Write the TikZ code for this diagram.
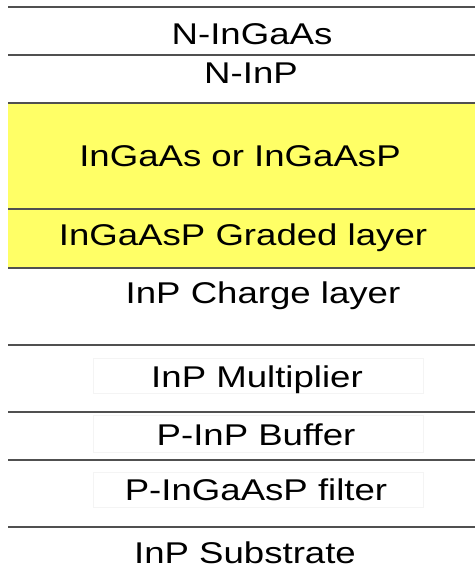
\documentclass[tikz,border=0pt]{standalone}
\usepackage{fontspec}
\setmainfont{Liberation Sans}
\usepackage{graphicx}
\definecolor{layeryellow}{RGB}{255,255,102}
\definecolor{sepline}{RGB}{80,80,80}
\definecolor{faintbox}{RGB}{244,244,244}
\tikzset{
  lbl/.style={anchor=base, inner sep=0pt, font=\fontsize{30}{36}\selectfont},
  sep/.style={draw=sepline, line width=1.8pt},
  fbox/.style={draw=faintbox, line width=0.8pt}
}
\newcommand{\wtext}[1]{\scalebox{1.22}[1]{#1}}
\begin{document}
\begin{tikzpicture}[x=1pt,y=-1pt]
\useasboundingbox (0,0) rectangle (475,569);
\fill[white] (0,0) rectangle (475,569);
% yellow layers
\fill[layeryellow] (8,103) rectangle (475,268);
% faint boxes
\draw[fbox] (93,358) rectangle (423,393);
\draw[fbox] (93,415) rectangle (423,452);
\draw[fbox] (93,472) rectangle (423,507);
% separator lines
\coordinate (l1a) at (8,7);   \coordinate (l1b) at (475,7);
\coordinate (l2a) at (8,55);  \coordinate (l2b) at (475,55);
\coordinate (l3a) at (8,103); \coordinate (l3b) at (475,103);
\coordinate (l4a) at (8,209); \coordinate (l4b) at (475,209);
\coordinate (l5a) at (8,268); \coordinate (l5b) at (475,268);
\coordinate (l6a) at (8,345); \coordinate (l6b) at (475,345);
\coordinate (l7a) at (8,412); \coordinate (l7b) at (475,412);
\coordinate (l8a) at (8,460); \coordinate (l8b) at (475,460);
\coordinate (l9a) at (8,527); \coordinate (l9b) at (475,527);
\foreach \i in {1,...,9} { \draw[sep] (l\i a) -- (l\i b); }
% labels
\node[lbl] (t1) at (252,45)  {\wtext{N-InGaAs}};
\node[lbl] (t2) at (251,84)  {\wtext{N-InP}};
\node[lbl] (t3) at (240,167) {\wtext{InGaAs or InGaAsP}};
\node[lbl] (t4) at (243,245) {\wtext{InGaAsP Graded layer}};
\node[lbl] (t5) at (263,303) {\wtext{InP Charge layer}};
\node[lbl] (t6) at (257,387) {\wtext{InP Multiplier}};
\node[lbl] (t7) at (256,445) {\wtext{P-InP Buffer}};
\node[lbl] (t8) at (256,500) {\wtext{P-InGaAsP filter}};
\node[lbl] (t9) at (245,563) {\wtext{InP Substrate}};
\end{tikzpicture}
\end{document}
